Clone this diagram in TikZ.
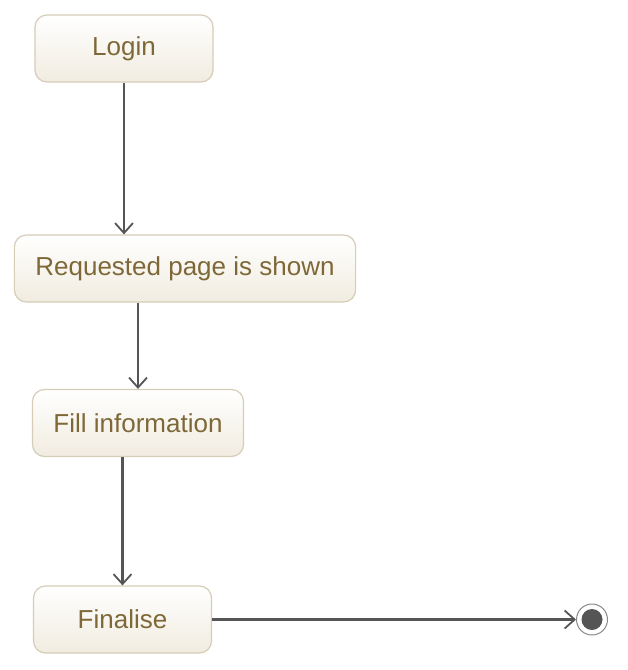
\documentclass[tikz,border=0pt]{standalone}
\usepackage{fontspec}
\setmainfont{Liberation Sans}
\usetikzlibrary{arrows.meta}
\definecolor{statedraw}{HTML}{D6CDB8}
\definecolor{statefill}{HTML}{F1ECE0}
\definecolor{statetext}{HTML}{7E6838}
\definecolor{flowline}{HTML}{555555}
\tikzset{
	state/.style={draw=statedraw, line width=1.2pt, rounded corners=12pt, top color=white, bottom color=statefill, text=statetext, font=\fontsize{26}{31}\selectfont, minimum height=67pt, minimum width=178pt, inner xsep=21pt},
	flow/.style={draw=flowline, line width=2.2pt, -{Straight Barb[length=10pt,width=18pt,line width=1.8pt]}}
}

\begin{document}
\begin{tikzpicture}[x=1pt, y=-1pt]
			\useasboundingbox (0,0) rectangle (628,670);
			\node[state] (login) at (124,48.5) {Login};
			\node[state] (req) at (185,268.5) {Requested page is shown};
			\node[state] (fill) at (138,423) {Fill information};
			\node[state] (fin) at (122.5,619.5) {Finalise};
			\node[circle, draw=flowline!70, line width=1pt, minimum size=31pt, inner sep=0pt] (end) at (592,619.5) {};
			\fill[flowline] (end) circle (10.5pt);
			\path
			(login) edge[flow] (login |- req.north)
			(fill |- req.south) edge[flow] (fill)
			(fin |- fill.south) edge[flow] (fin)
			(fin) edge[flow] (end);
		\end{tikzpicture}
\end{document}
